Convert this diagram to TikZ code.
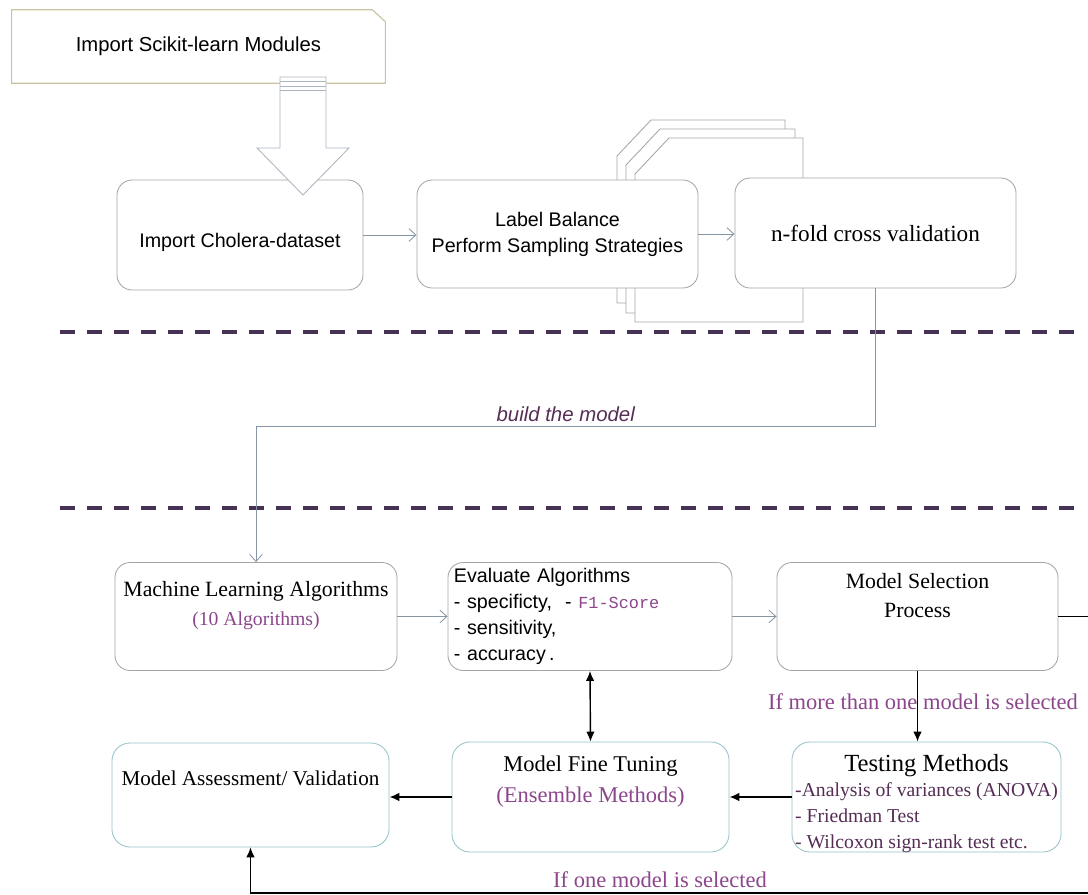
\documentclass[tikz,border=0pt]{standalone}
\usepackage{fontspec}
\setmainfont{Liberation Serif}
\setsansfont{Liberation Sans}
\setmonofont{Liberation Mono}
\usetikzlibrary{arrows.meta}
\usetikzlibrary{calc}

\definecolor{boxgray}{RGB}{165,165,165}
\definecolor{boxtan}{RGB}{200,195,160}
\definecolor{boxteal}{RGB}{150,195,200}
\definecolor{flowgray}{RGB}{135,150,165}
\definecolor{sepviolet}{RGB}{70,50,85}
\definecolor{txtpurple}{RGB}{140,70,140}
\definecolor{txtdark}{RGB}{85,45,85}

\begin{document}
\begin{tikzpicture}[
      x=0.025cm, y=-0.025cm,
      box_top/.style={draw=boxgray, line width=0.6pt, rounded corners=0.38cm, fill=white,
        minimum width=7.025cm, minimum height=2.7cm, inner sep=2pt, align=center},
      box_low/.style={draw=boxteal, line width=0.6pt, rounded corners=0.45cm, fill=white,
        minimum width=6.925cm, minimum height=2.75cm, inner sep=2pt, align=center},
      flow_gray/.style={draw=flowgray, line width=0.6pt, -{Straight Barb[length=5pt,width=9pt]}},
      flow_black/.style={line width=1pt, -{Latex[length=7pt,width=6pt]}},
      flow_both/.style={line width=1pt, {Latex[length=7pt,width=6pt]}-{Latex[length=7pt,width=6pt]}},
      sep_line/.style={draw=sepviolet, line width=3pt, dash pattern=on 10.7pt off 8.5pt},
      sf14/.style={font=\sffamily\fontsize{14}{18.5}\selectfont},
      rm15/.style={font=\fontsize{15.5}{20.5}\selectfont},
      note/.style={text=txtpurple, font=\fontsize{16}{19}\selectfont},
    ]
    \useasboundingbox (0,0) rectangle (1088,895);
    \clip (0,0) rectangle (1088,895);

    % Stacked folds behind the cross validation box.
    \foreach \lx/\ty/\rx/\by in {617/120/785/303, 626/129/795/313, 635/138/803/322}
      \draw[draw=boxgray, fill=white, line width=0.6pt]
        (\lx,\ty+36) -- (\lx+34,\ty) -- (\rx,\ty) -- (\rx,\by) -- (\lx,\by) -- cycle;

    % Upper part.
    \node[minimum width=9.325cm, minimum height=1.825cm,
      font=\sffamily\fontsize{14.4}{18}\selectfont] (sklearn) at (198.5,46.5) {Import Scikit-learn Modules};
    \draw[draw=boxtan, line width=0.8pt] (sklearn.south west) -- (sklearn.north west)
      -- ($(sklearn.north east)+(-13,0)$) -- ($(sklearn.north east)+(0,12)$) -- (sklearn.south east) -- cycle;

    \node[box_top, sf14, minimum width=6.15cm, minimum height=2.75cm, text height=21pt] (cholera) at (240,235) {Import Cholera-dataset};
    \node[box_top, sf14] (balance) at (557.5,234) {Label Balance\\Perform Sampling Strategies};
    \node[box_top, minimum height=2.75cm, font=\fontsize{16.5}{20}\selectfont] (nfold) at (875.5,233) {n-fold cross validation};

    % Hollow block arrow.
    \coordinate (bigA) at (303,77);
    \draw[draw=flowgray!70, fill=white, line width=0.6pt] ($(bigA)+(-23,0)$) -- ($(bigA)+(-23,71)$)
      -- ($(bigA)+(-46,71)$) -- ($(bigA)+(0,118)$) -- ($(bigA)+(46,71)$) -- ($(bigA)+(23,71)$)
      -- ($(bigA)+(23,0)$) -- cycle;
    \foreach \sy in {4,9,13}
      \draw[draw=flowgray!70, line width=0.5pt] ($(bigA)+(-23,\sy)$) -- ++(46,0);

    \draw[flow_gray] (cholera.east) -- (cholera.east -| balance.west);
    \draw[flow_gray] (balance.east) -- (balance.east -| nfold.west);

    % Separators.
    \coordinate (sepA_l) at (60,332);
    \coordinate (sepA_r) at (1075,332);
    \coordinate (sepB_l) at (60,508);
    \coordinate (sepB_r) at (1075,508);
    \draw[sep_line] (sepA_l) -- (sepA_r);
    \draw[sep_line] (sepB_l) -- (sepB_r);

    % Lower part.
    \node[box_top, rm15, minimum width=7.05cm, text depth=19pt] (ml) at (256,616.5)
      {Machine Learning Algorithms\\{\color{txtpurple}\fontsize{14}{18}\selectfont(10 Algorithms)}};
    \node[box_top, sf14, align=left, text width=6.8cm, minimum width=7.1cm] (evalg) at (590,616.5)
      {Evaluate Algorithms\\- specificty,\ \ - {\ttfamily\color{txtpurple}\fontsize{12}{14}\selectfont F1-Score}\\- sensitivity,\\- accuracy\,.};
    \node[box_top, rm15, text depth=30pt] (msel) at (917.5,616.5) {Model Selection\\Process};

    \node[box_low, font=\fontsize{15}{19}\selectfont, minimum height=2.6cm, text depth=24pt] (assess) at (250.5,795)
      {Model Assessment/ Validation};
    \node[box_low, font=\fontsize{16}{22}\selectfont, text depth=26pt] (tuning) at (590.5,797)
      {Model Fine Tuning\\{\color{txtpurple}(Ensemble Methods)}};
    \node[box_low, minimum width=6.725cm, font=\fontsize{17.5}{16}\selectfont, text depth=30pt] (testing) at (926.5,797)
      {Testing Methods\\{\fontsize{14}{18.5}\selectfont\color{txtdark}\begin{tabular}[t]{@{}l@{}}-Analysis of variances (ANOVA)\\- Friedman Test\\- Wilcoxon sign-rank test etc.\end{tabular}}};

    \node[note] (more_one) at (923,702) {If more than one model is selected};
    \node[note] (one_only) at (660,880) {If one model is selected};

    % Connectors.
    \draw[flow_gray] (nfold.south) -- ++(0,138) -| (ml.north)
      node[pos=0.25, above, text=txtdark, font=\sffamily\itshape\fontsize{14.5}{17}\selectfont] {build the model};
    \draw[flow_gray] (ml.east) -- (evalg.west);
    \draw[flow_gray] (evalg.east) -- (msel.west);
    \draw[flow_black] (msel.south) -- (msel.south |- testing.north);
    \draw[flow_black] (testing.west) -- (tuning.east);
    \draw[flow_black] (tuning.west) -- (tuning.west -| assess.east);
    \draw[flow_both] (evalg.south) -- (tuning.north);
    \coordinate (loop_b) at (1110,893);
    \draw[flow_black, line width=0.8pt] (msel.east) -| (loop_b) -| (assess.south);
\end{tikzpicture}
\end{document}
